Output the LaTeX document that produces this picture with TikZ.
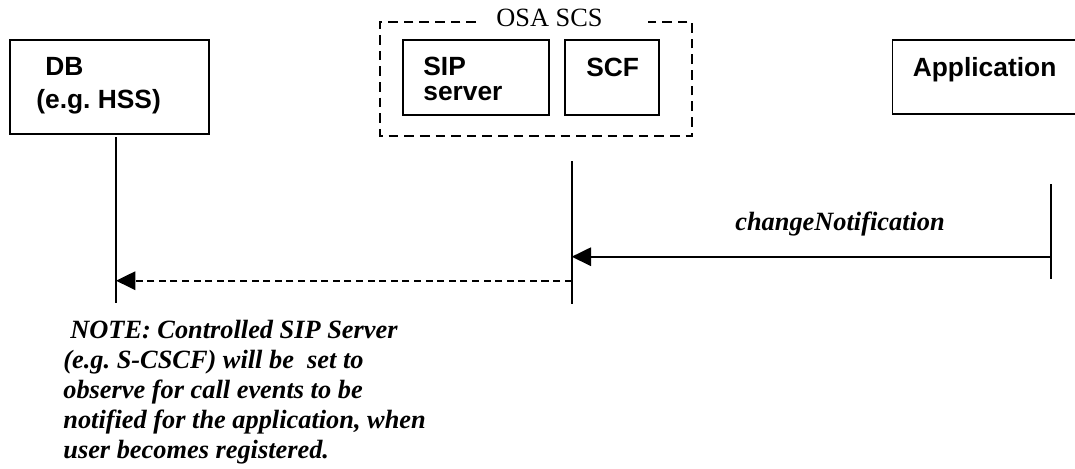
\documentclass[tikz,border=0pt]{standalone}
\usepackage{fontspec}
\setmainfont{Liberation Serif}
\newfontfamily\arialfont{Liberation Sans}
\usetikzlibrary{arrows.meta,positioning}
\frenchspacing

\tikzset{
  boxSty/.style={draw, line width=1.1pt, rectangle, inner sep=0pt},
  lblSty/.style={anchor=base west, inner sep=0pt, font=\arialfont\bfseries\fontsize{15}{18}\selectfont},
  msgSty/.style={anchor=base west, inner sep=0pt, font=\bfseries\itshape\fontsize{15}{17}\selectfont},
  lifeSty/.style={line width=1pt},
  arrSty/.style={-{Triangle[length=11pt,width=10.5pt]}, line width=1pt},
  dashSty/.style={dash pattern=on 4pt off 2.6pt},
}

\begin{document}
\begin{tikzpicture}[x=0.02cm, y=-0.02cm]
\useasboundingbox (0,0) rectangle (1075,468);

%box nodes
\node[boxSty, minimum width=3.98cm, minimum height=1.88cm] (nDBBox) at (109.5,87) {};
\node[boxSty, minimum width=2.92cm, minimum height=1.5cm] (nSIPBox) at (476,77.5) {};
\node[boxSty, minimum width=1.88cm, minimum height=1.5cm] (nSCFBox) at (612,77.5) {};
\node[boxSty, minimum width=3.96cm, minimum height=1.48cm] (nAppBox) at (991.5,77) {};

%labels
\node[lblSty] (nDBTxt) at (45,75) {DB};
\node[lblSty] (nHSSTxt) at (36,108) {(e.g. HSS)};
\node[lblSty] (nSIPTxt) at (423,75) {SIP};
\node[lblSty] (nServerTxt) at (423,100) {server};
\node[lblSty] (nSCFTxt) at (586,76) {SCF};
\node[lblSty] (nAppTxt) at (912.5,76) {Application};
\node[anchor=base west, inner sep=0pt, font=\fontsize{15}{18}\selectfont] (nOSATxt) at (496,26) {OSA SCS};

%OSA SCS dashed frame
\draw[line width=1pt, dash pattern=on 5.5pt off 3.4pt] (476,21.7) -- (380,21.7) -- (380,136) -- (692,136) -- (692,21.7) -- (648,21.7);

%lifelines
\coordinate (cDBTop) at (116,137);
\coordinate (cDBBot) at (116,303);
\coordinate (cSCSTop) at (571.7,161);
\coordinate (cSCSBot) at (571.7,304);
\coordinate (cAppTop) at (1051,184);
\coordinate (cAppBot) at (1051,279);
\draw[lifeSty] (cDBTop) -- (cDBBot);
\draw[lifeSty] (cSCSTop) -- (cSCSBot);
\draw[lifeSty] (cAppTop) -- (cAppBot);

%messages
\coordinate (cAppMsg) at (1051,256.7);
\coordinate (cSCSMsg) at (571.7,256.7);
\coordinate (cSCSOut) at (571.7,280.7);
\coordinate (cDBIn) at (116,280.7);
\draw[arrSty] (cAppMsg) -- (cSCSMsg);
\draw[arrSty, dashSty] (cSCSOut) -- (cDBIn);
\node[msgSty] (nChangeTxt) at (735,230) {changeNotification};

%note
\foreach \x/\y/\txt [count=\i] in {70/338/{NOTE: Controlled SIP Server},
    63/368/{(e.g. S-CSCF) will be~ set to},
    63/398/{observe for call events to be},
    63/428/{notified for the application, when},
    63/458/{user becomes registered.}}
{
    \node[msgSty] (nNote\i) at (\x,\y) {\txt};
}

\end{tikzpicture}
\end{document}
